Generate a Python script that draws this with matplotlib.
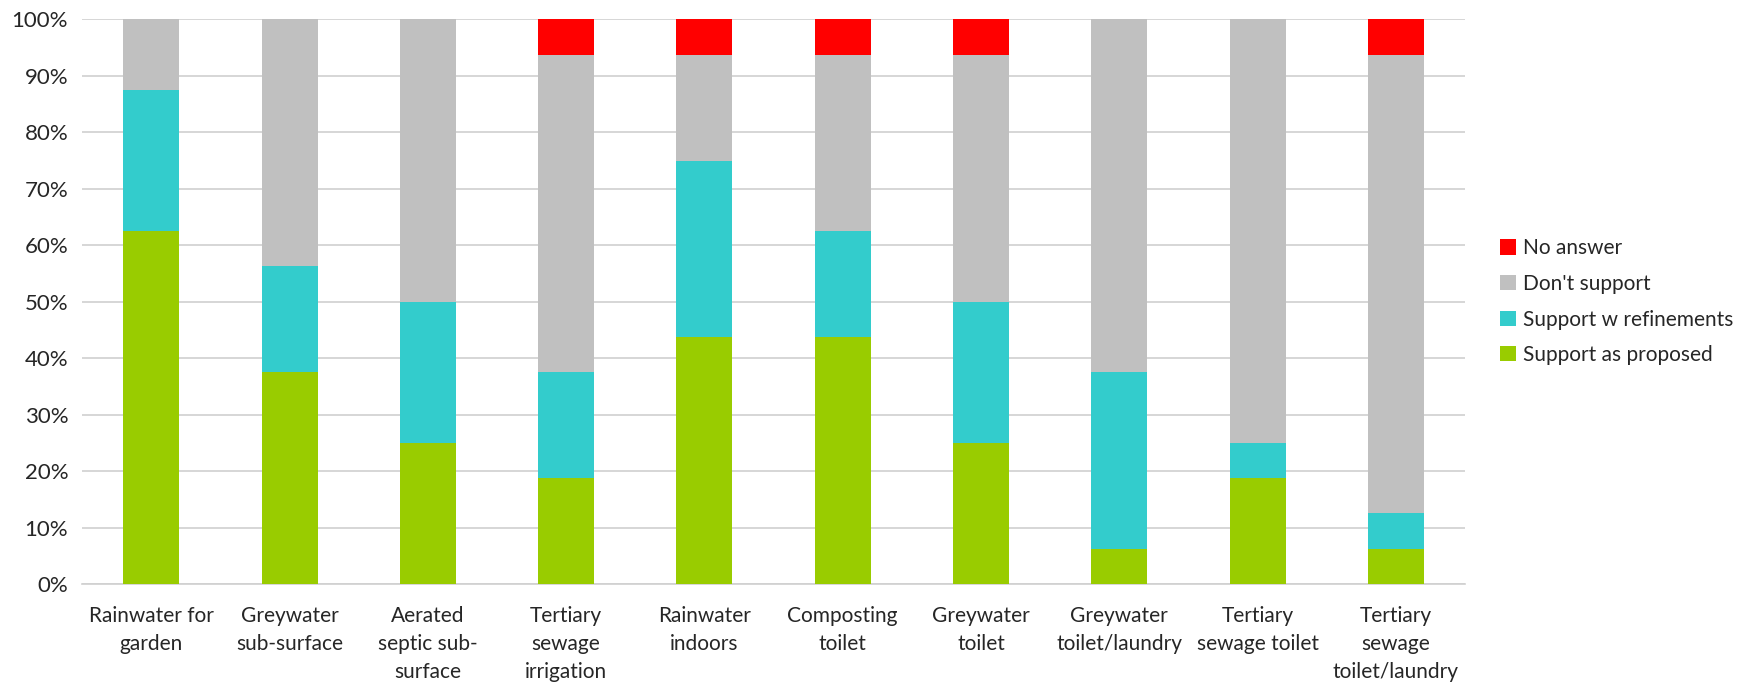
import matplotlib.pyplot as plt
import numpy as np

categories = ['Rainwater for\ngarden', 'Greywater\nsub-surface', 'Aerated\nseptic sub-\nsurface',
              'Tertiary\nsewage\nirrigation', 'Rainwater\nindoors', 'Composting\ntoilet',
              'Greywater\ntoilet', 'Greywater\ntoilet/laundry', 'Tertiary\nsewage toilet',
              'Tertiary\nsewage\ntoilet/laundry']
support = [62.5, 37.5, 25, 18.75, 43.75, 43.75, 25, 6.25, 18.75, 6.25]
refine = [25, 18.75, 25, 18.75, 31.25, 18.75, 25, 31.25, 6.25, 6.25]
dont = [12.5, 43.75, 50, 56.25, 18.75, 31.25, 43.75, 62.5, 75, 81.25]
no_answer = [0, 0, 0, 6.25, 6.25, 6.25, 6.25, 0, 0, 6.25]

plt.rcParams['font.family'] = ['Lato', 'DejaVu Sans']
txt = '#262626'

fig = plt.figure(figsize=(17.5, 6.91), dpi=100)
ax = fig.add_axes([0.0469, 0.1548, 0.7903, 0.8172])

x = np.arange(len(categories))
w = 0.405
b1 = np.array(support)
b2 = b1 + np.array(refine)
b3 = b2 + np.array(dont)
ax.bar(x, support, w, color='#99CC00', label='Support as proposed', zorder=3)
ax.bar(x, refine, w, bottom=b1, color='#33CCCC', label='Support w refinements', zorder=3)
ax.bar(x, dont, w, bottom=b2, color='#C0C0C0', label="Don't support", zorder=3)
ax.bar(x, no_answer, w, bottom=b3, color='#FF0000', label='No answer', zorder=3)

ax.set_xlim(-0.5, len(categories) - 0.5)
ax.set_ylim(0, 100)
ax.set_yticks(range(0, 101, 10))
ax.set_yticklabels([f'{v}%' for v in range(0, 101, 10)], fontsize=16, color=txt)
ax.set_xticks(x)
ax.set_xticklabels(categories, fontsize=15, color=txt, linespacing=1.5)
ax.grid(axis='y', color='#D0D0D0', linewidth=1.2, zorder=0)
for s in ['top', 'right', 'left']:
    ax.spines[s].set_visible(False)
ax.spines['bottom'].set_color('#D0D0D0')
ax.spines['bottom'].set_linewidth(1.2)
ax.tick_params(axis='y', length=0, pad=10)
ax.tick_params(axis='x', length=0, pad=16)

h, l = ax.get_legend_handles_labels()
leg = ax.legend(h[::-1], l[::-1], loc='center left', bbox_to_anchor=(1.012, 0.50),
                frameon=False, fontsize=15, handlelength=0.75, handleheight=0.75,
                handletextpad=0.35, labelspacing=0.75)
for t in leg.get_texts():
    t.set_color(txt)

plt.savefig('out.png', dpi=100)
